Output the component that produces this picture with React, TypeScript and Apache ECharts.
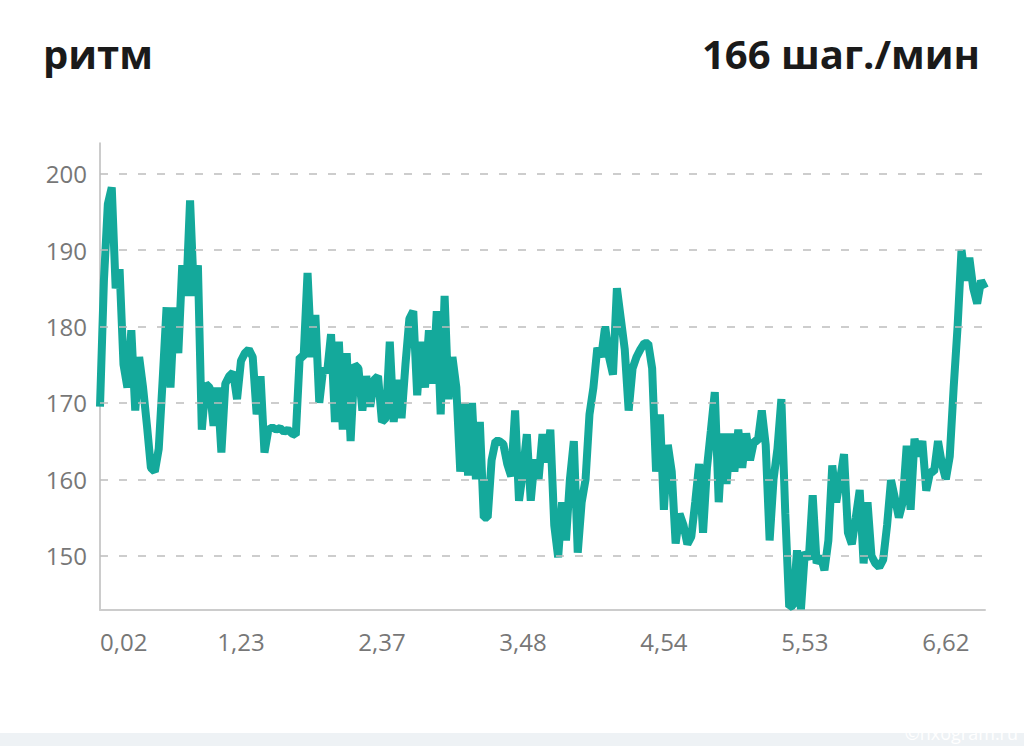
import React, { useEffect, useRef } from "react";
import * as echarts from "echarts";

const titleLeft = "ритм";
const titleRight = "166 шаг./мин";
const watermark = "©hxogram.ru";

const xTickLabels = ["0,02", "1,23", "2,37", "3,48", "4,54", "5,53", "6,62"];
const xTickStep = 36;
const gridValues = [150, 160, 170, 180, 190, 200];

const cadence = [
  169.5, 186, 196, 198.2, 185, 187.5, 175, 172, 179.5, 169,
  176, 172, 167, 161.5, 161, 164, 173, 182.5, 172, 182.5,
  176.5, 188, 184, 196.5, 184, 188, 166.5, 172.5, 172, 167,
  172, 163.5, 172.5, 173.5, 174, 170.5, 175.5, 176.5, 177, 176,
  168.5, 173.5, 163.5, 166.5, 166.8, 166.5, 166.7, 166.2, 166.5, 166,
  165.8, 176, 176, 187, 176, 181.5, 170, 174.5, 174, 179,
  167.5, 178, 166.5, 176.5, 165, 175, 174.5, 169, 173.5, 169.5,
  173, 173.5, 167.5, 168, 178, 167.5, 173, 168, 175, 181,
  182, 171, 178, 172, 179.5, 172.5, 182, 168.5, 184, 170.5,
  176, 172, 161, 170, 160.5, 170, 160, 167.5, 155, 155,
  162.5, 165, 165, 164.6, 162, 160.4, 169, 157.2, 161, 165.9,
  157.2, 162.6, 160, 165.9, 162.2, 166.5, 154, 149.8, 157, 152,
  160, 165, 150.4, 157, 160, 168.5, 172, 177.2, 176, 180,
  176, 173.7, 185, 181, 177, 169, 174.5, 176, 177, 177.8,
  177.8, 174.5, 161, 168.5, 156, 164.5, 161, 151.6, 155.5, 154,
  151.5, 152.5, 157, 162, 153, 161.5, 166.4, 171.4, 157, 166,
  159.4, 166, 161, 166.5, 161.5, 166, 162.5, 165, 165, 169,
  164.5, 152, 160, 164, 170.5, 155.5, 143.3, 143.5, 150.7, 143,
  150.5, 149.5, 157.9, 149, 150, 148.1, 152, 161.8, 157, 160,
  163.3, 153, 151.5, 155, 158.6, 149, 157, 150, 149, 148.5,
  149.5, 154, 159.9, 157.5, 155, 157, 164.4, 156, 165.3, 163,
  165, 158.5, 161, 161, 165, 162, 160, 163, 172, 180,
  190, 186, 189, 185, 183, 186, 185,
];

const yMin = 142.9;
const yMax = 204;

export default function App() {
  const ref = useRef<HTMLDivElement>(null);

  useEffect(() => {
    document.body.style.margin = "0";
    if (!ref.current) return;
    const chart = echarts.init(ref.current, null, { renderer: "svg" });
    const seriesData = cadence.map((v, i) => [i, v]);
    const font = '"Open Sans", "Noto Sans", sans-serif';

    chart.setOption({
      animation: false,
      backgroundColor: "#ffffff",
      grid: { left: 100, right: 39, top: 143, bottom: 136, containLabel: false },
      xAxis: {
        type: "value",
        min: 0,
        max: cadence.length - 1,
        interval: xTickStep,
        axisLine: { show: true, lineStyle: { color: "#cccccc", width: 2 } },
        axisTick: { show: false },
        splitLine: { show: false },
        axisLabel: {
          showMaxLabel: false,
          alignMinLabel: "left",
          margin: 19,
          fontSize: 24,
          color: "#777777",
          fontFamily: font,
          formatter: (v: number) => {
            const k = Math.round(v / xTickStep);
            return Math.abs(k * xTickStep - v) < 1e-6 && xTickLabels[k] ? xTickLabels[k] : "";
          },
        },
      },
      yAxis: {
        type: "value",
        min: yMin,
        max: yMax,
        axisLine: { show: true, lineStyle: { color: "#bbbbbb", width: 1.5 } },
        axisTick: { show: false },
        splitLine: { show: false },
        axisLabel: {
          showMinLabel: false,
          showMaxLabel: false,
          margin: 13,
          fontSize: 24,
          color: "#777777",
          fontFamily: font,
        },
      },
      series: [
        {
          type: "line",
          data: seriesData,
          z: 1,
          silent: true,
          showSymbol: false,
          symbol: "none",
          lineStyle: { opacity: 0 },
          markLine: {
            silent: true,
            symbol: ["none", "none"],
            label: { show: false },
            lineStyle: { type: [8, 11], color: "#bdbdbd", width: 1.5 },
            data: gridValues.map((v) => ({ yAxis: v })),
          },
        },
        {
          type: "line",
          data: seriesData,
          z: 3,
          showSymbol: false,
          symbol: "none",
          lineStyle: { color: "#14a99b", width: 8 },
        },
      ],
      graphic: [
        {
          type: "text",
          left: 43,
          top: 33,
          style: { text: titleLeft, font: 'bold 40px "Open Sans", sans-serif', fill: "#1a1a1a" },
        },
        {
          type: "text",
          right: 44,
          top: 33,
          style: { text: titleRight, font: 'bold 40px "Open Sans", sans-serif', fill: "#1a1a1a" },
        },
        {
          type: "rect",
          left: 0,
          top: 733,
          shape: { width: 1024, height: 13 },
          style: { fill: "#eef2f5" },
        },
        {
          type: "text",
          right: 6,
          top: 724,
          style: {
            text: watermark,
            font: '18px "Open Sans", sans-serif',
            lineHeight: 18,
            fill: "#ffffff",
          },
        },
      ],
    });

    return () => chart.dispose();
  }, []);

  return <div ref={ref} style={{ width: 1024, height: 746 }} />;
}
